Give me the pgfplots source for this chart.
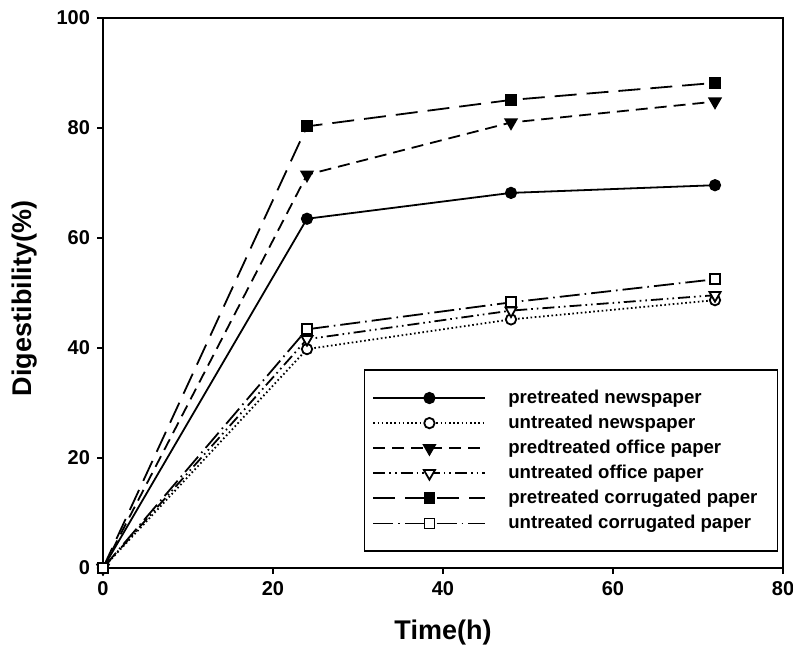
\documentclass[border=0pt]{standalone}
\usepackage{fontspec}
\setmainfont{Liberation Sans}
\usepackage{pgfplots}
\pgfplotsset{compat=1.18}
\begin{document}
\begin{tikzpicture}
\begin{axis}[
  name=ax,
  scale only axis,
  width=340pt, height=275pt,
  xmin=0, xmax=80, ymin=0, ymax=100,
  xtick={0,20,40,60,80}, ytick={0,20,40,60,80,100},
  xtick pos=bottom, ytick pos=left,
  tick align=outside, major tick length=3pt,
  axis line style={line width=1pt},
  every tick/.style={black, line width=0.9pt},
  /pgf/number format/assume math mode=true,
  ticklabel style={font=\bfseries\fontsize{10}{12}\selectfont},
  xlabel={Time(h)}, ylabel={Digestibility(\%)},
  label style={font=\bfseries\fontsize{13.5}{16}\selectfont},
  xlabel style={at={(axis description cs:0.5,-0.118)}, anchor=center},
  ylabel style={at={(axis description cs:-0.1147,0.49)}, anchor=center},
  legend cell align=left,
  legend style={at={(0.993,0.029)}, anchor=south east, draw=black, line width=0.8pt,
    font=\bfseries\fontsize{9.3}{11}\selectfont,
    inner xsep=4pt, inner ysep=8pt, row sep=0.7pt, column sep=5pt,
    nodes={inner ysep=1.8pt, inner xsep=6pt}},
  legend image code/.code={\draw[mark repeat=2, mark phase=2] plot coordinates {(0pt,0pt) (28pt,0pt) (56pt,0pt)};},
  every axis plot/.append style={line width=0.9pt, black},
]
\addplot[solid, mark=*, mark size=2.6pt, mark options={solid, fill=black}]
  coordinates {(0,0) (24,63.5) (48,68.2) (72,69.6)};
\addlegendentry{pretreated newspaper}
\addplot[dash pattern=on 0.8pt off 1.3pt, mark=*, mark size=2.6pt, mark options={solid, fill=white}]
  coordinates {(0,0) (24,39.8) (48,45.2) (72,48.7)};
\addlegendentry{untreated newspaper}
\addplot[dash pattern=on 6pt off 3.5pt, mark=triangle*, mark size=3.2pt, mark options={solid, fill=black, rotate=180}]
  coordinates {(0,0) (24,71.5) (48,81.0) (72,84.8)};
\addlegendentry{predtreated office paper}
\addplot[dash pattern=on 6pt off 2pt on 0.8pt off 2pt on 0.8pt off 2pt, mark=triangle*, mark size=3.2pt, mark options={solid, fill=white, rotate=180}]
  coordinates {(0,0) (24,41.6) (48,46.8) (72,49.6)};
\addlegendentry{untreated office paper}
\addplot[dash pattern=on 11pt off 5pt, mark=square*, mark size=2.5pt, mark options={solid, fill=black}]
  coordinates {(0,0) (24,80.3) (48,85.1) (72,88.2)};
\addlegendentry{pretreated corrugated paper}
\addplot[dash pattern=on 10pt off 2.5pt on 0.8pt off 2.5pt, mark=square*, mark size=2.5pt, mark options={solid, fill=white}]
  coordinates {(0,0) (24,43.4) (48,48.3) (72,52.5)};
\addlegendentry{untreated corrugated paper}
\end{axis}
\pgfresetboundingbox
\path[use as bounding box] ([shift={(-51.5pt,-42.5pt)}]ax.south west) rectangle ([shift={(5pt,9pt)}]ax.north east);
\end{tikzpicture}
\end{document}
